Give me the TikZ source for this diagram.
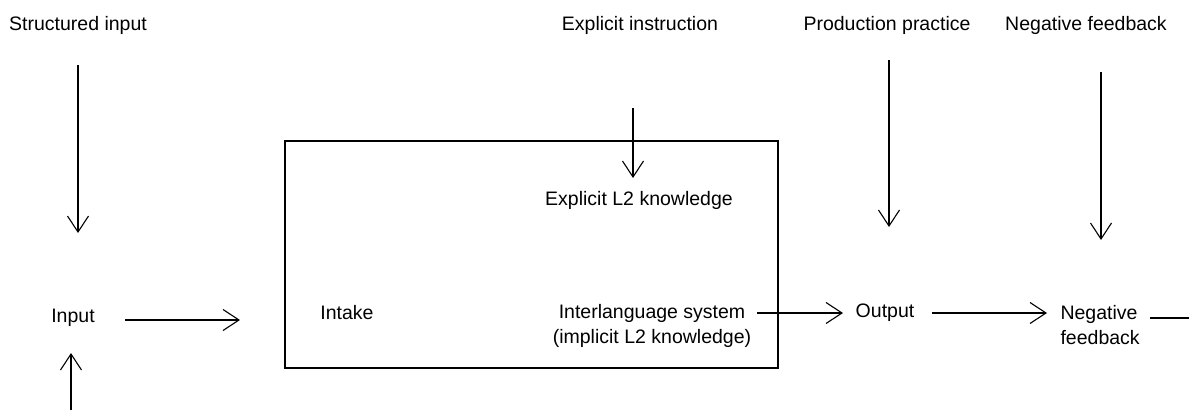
\documentclass[tikz,border=0pt]{standalone}
\usepackage{fontspec}
\setmainfont{Liberation Sans}
\usetikzlibrary{arrows.meta}
\begin{document}
\begin{tikzpicture}[x=1pt, y=-1pt, line width=1.1pt,
    lbl/.style={inner sep=0pt, font=\fontsize{19.5}{25}\selectfont},
    arr/.style={-{Straight Barb[length=16pt, width=21pt, line width=1.1pt]}}]
      \useasboundingbox (0,0) rectangle (1189,410);
      % labels on top
      \node[lbl] (strin) at (78,25){Structured input};
      \node[lbl] (expin) at (640,25){Explicit instruction};
      \node[lbl] (prodp) at (887,25){Production practice};
      \node[lbl] (negin) at (1086,25){Negative feedback};
      % the box
      \node[draw, minimum width=493pt, minimum height=227pt] (box) at (531.5,254.5){};
      \node[lbl] (explk) at (639,200){Explicit L2 knowledge};
      \node[lbl] (intk) at (347,313){Intake};
      \node[lbl, align=center] (ils) at (652,326){Interlanguage system\\(implicit L2 knowledge)};
      % row of the model
      \node[lbl] (inp) at (73,318){Input};
      \node[lbl] (outp) at (885,313){Output};
      \node[lbl, align=left, anchor=west] (negfb) at (1060,325){Negative\\feedback};
      \coordinate (si0) at (78,65);
      \coordinate (si1) at (78,233);
      \coordinate (ei0) at (633,108);
      \coordinate (ei1) at (633,178);
      \coordinate (pp0) at (889,60);
      \coordinate (pp1) at (889,227);
      \coordinate (nf0) at (1101,72);
      \coordinate (nf1) at (1101,240);
      \coordinate (in0) at (125,320);
      \coordinate (in1) at (240,320);
      \coordinate (il0) at (757,313);
      \coordinate (il1) at (843,313);
      \coordinate (op0) at (932,313);
      \coordinate (op1) at (1047,313);
      \coordinate (fb0) at (1150,318);
      \coordinate (fb1) at (1189,318);
      \coordinate (bt0) at (71,410);
      \coordinate (bt1) at (71,353);
      \draw[arr](si0) -- (si1);
      \draw[arr](ei0) -- (ei1);
      \draw[arr](pp0) -- (pp1);
      \draw[arr](nf0) -- (nf1);
      \draw[arr](in0) -- (in1);
      \draw[arr](il0) -- (il1);
      \draw[arr](op0) -- (op1);
      \draw[arr](bt0) -- (bt1);
      \draw[](fb0) -- (fb1);
\end{tikzpicture}
\end{document}
